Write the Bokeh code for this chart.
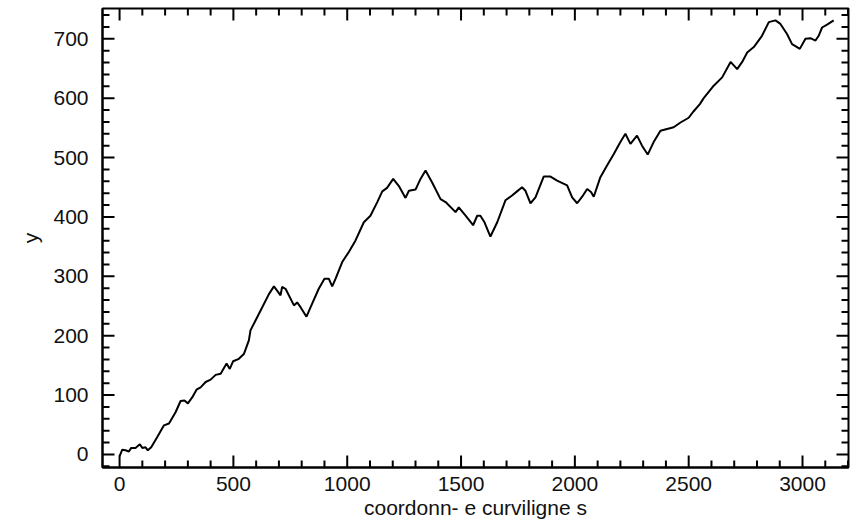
from bokeh.plotting import figure
from bokeh.models import LinearAxis, SingleIntervalTicker, Range1d
from bokeh.embed import file_html
from bokeh.resources import INLINE

s_values = [0, 12, 26, 41, 51, 70, 89, 100, 114, 124,
            139, 165, 195, 217, 246, 268, 285, 300, 319, 338,
            356, 378, 400, 422, 444, 470, 484, 499, 524, 546,
            568, 575, 619, 656, 678, 692, 707, 714, 729, 766,
            780, 795, 821, 846, 875, 900, 919, 934, 949, 978,
            1007, 1036, 1073, 1102, 1132, 1154, 1175, 1202, 1227, 1256,
            1271, 1300, 1322, 1344, 1373, 1410, 1432, 1476, 1490, 1520,
            1553, 1571, 1585, 1603, 1629, 1659, 1695, 1724, 1746, 1768,
            1783, 1805, 1827, 1863, 1893, 1922, 1966, 1988, 2010, 2032,
            2054, 2071, 2083, 2112, 2142, 2171, 2200, 2222, 2244, 2273,
            2295, 2320, 2346, 2376, 2405, 2434, 2464, 2500, 2522, 2549,
            2566, 2610, 2647, 2684, 2713, 2735, 2757, 2786, 2822, 2852,
            2881, 2903, 2932, 2954, 2976, 2988, 3013, 3035, 3057, 3071,
            3086, 3108, 3137]

y_values = [-3, 8, 7, 5, 11, 11, 17, 11, 12, 7,
            12, 29, 49, 52, 71, 90, 91, 86, 96, 109,
            113, 122, 126, 134, 136, 153, 144, 157, 161, 169,
            192, 209, 242, 270, 283, 276, 268, 282, 279, 251,
            256, 248, 232, 254, 279, 296, 296, 283, 296, 324,
            341, 360, 391, 402, 425, 443, 449, 464, 452, 432,
            444, 446, 464, 478, 458, 430, 425, 408, 416, 402,
            386, 402, 402, 391, 367, 391, 428, 436, 443, 450,
            444, 423, 433, 468, 468, 461, 453, 433, 423, 434,
            447, 442, 434, 467, 487, 506, 526, 540, 523, 537,
            520, 505, 526, 545, 548, 551, 559, 567, 578, 590,
            600, 621, 635, 661, 649, 661, 677, 686, 705, 728,
            731, 725, 708, 691, 686, 683, 700, 701, 697, 705,
            719, 724, 731]

assert len(s_values) == len(y_values)

x_label = "coordonn- e curviligne s"
y_label = "y"

x_major_ticks = [0, 500, 1000, 1500, 2000, 2500, 3000]
x_minor_ticks = [v for v in range(0, 3201, 100) if v % 500 != 0]
y_major_ticks = [0, 100, 200, 300, 400, 500, 600, 700]
y_minor_ticks = [v for v in range(-20, 751, 20) if v % 100 != 0]

X0, X1 = -75, 3202
Y0, Y1 = -22, 751

FONT = "Liberation Sans"
TICK_COLOR = "black"

FRAME_W, FRAME_H = 746, 459
W, H = 858, 527

p = figure(width=W, height=H, output_backend="svg", toolbar_location=None,
           x_range=Range1d(X0, X1), y_range=Range1d(Y0, Y1),
           x_axis_type=None, y_axis_type=None,
           frame_width=FRAME_W, frame_height=FRAME_H,
           min_border_left=102, min_border_right=10,
           min_border_top=8, min_border_bottom=60)
p.background_fill_color = "white"
p.border_fill_color = "white"
p.outline_line_color = "black"
p.outline_line_width = 2
p.xgrid.visible = False
p.ygrid.visible = False

# inward ticks on all four sides (tick length in pixels converted to data units)
px_x = (X1 - X0) / FRAME_W
px_y = (Y1 - Y0) / FRAME_H
MAJ, MIN = 12, 7
for ticks, length in ((x_major_ticks, MAJ), (x_minor_ticks, MIN)):
    n = len(ticks)
    p.segment(x0=ticks, y0=[Y0] * n, x1=ticks, y1=[Y0 + length * px_y] * n,
              line_color=TICK_COLOR, line_width=2)
    p.segment(x0=ticks, y0=[Y1] * n, x1=ticks, y1=[Y1 - length * px_y] * n,
              line_color=TICK_COLOR, line_width=2)
for ticks, length in ((y_major_ticks, MAJ), (y_minor_ticks, MIN)):
    n = len(ticks)
    p.segment(x0=[X0] * n, y0=ticks, x1=[X0 + length * px_x] * n, y1=ticks,
              line_color=TICK_COLOR, line_width=2)
    p.segment(x0=[X1] * n, y0=ticks, x1=[X1 - length * px_x] * n, y1=ticks,
              line_color=TICK_COLOR, line_width=2)

p.line(s_values, y_values, line_color="black", line_width=2)

def style(ax):
    ax.major_tick_in = 0
    ax.major_tick_out = 0
    ax.minor_tick_in = 0
    ax.minor_tick_out = 0
    ax.axis_line_color = "black"
    ax.axis_line_width = 2
    ax.major_label_text_font = FONT
    ax.major_label_text_font_size = "21px"
    ax.major_label_text_color = "#111111"
    ax.axis_label_text_font = FONT
    ax.axis_label_text_font_size = "21px"
    ax.axis_label_text_font_style = "normal"
    ax.axis_label_text_color = "#111111"

xb = LinearAxis(ticker=SingleIntervalTicker(interval=500, num_minor_ticks=5),
                axis_label=x_label)
style(xb)
xb.major_label_standoff = 9
xb.axis_label_standoff = 2
p.add_layout(xb, "below")

yl = LinearAxis(ticker=SingleIntervalTicker(interval=100, num_minor_ticks=5),
                axis_label=y_label)
style(yl)
yl.major_label_standoff = 14
yl.axis_label_standoff = 8
p.add_layout(yl, "left")

open("out.html", "w").write(file_html(p, INLINE))
